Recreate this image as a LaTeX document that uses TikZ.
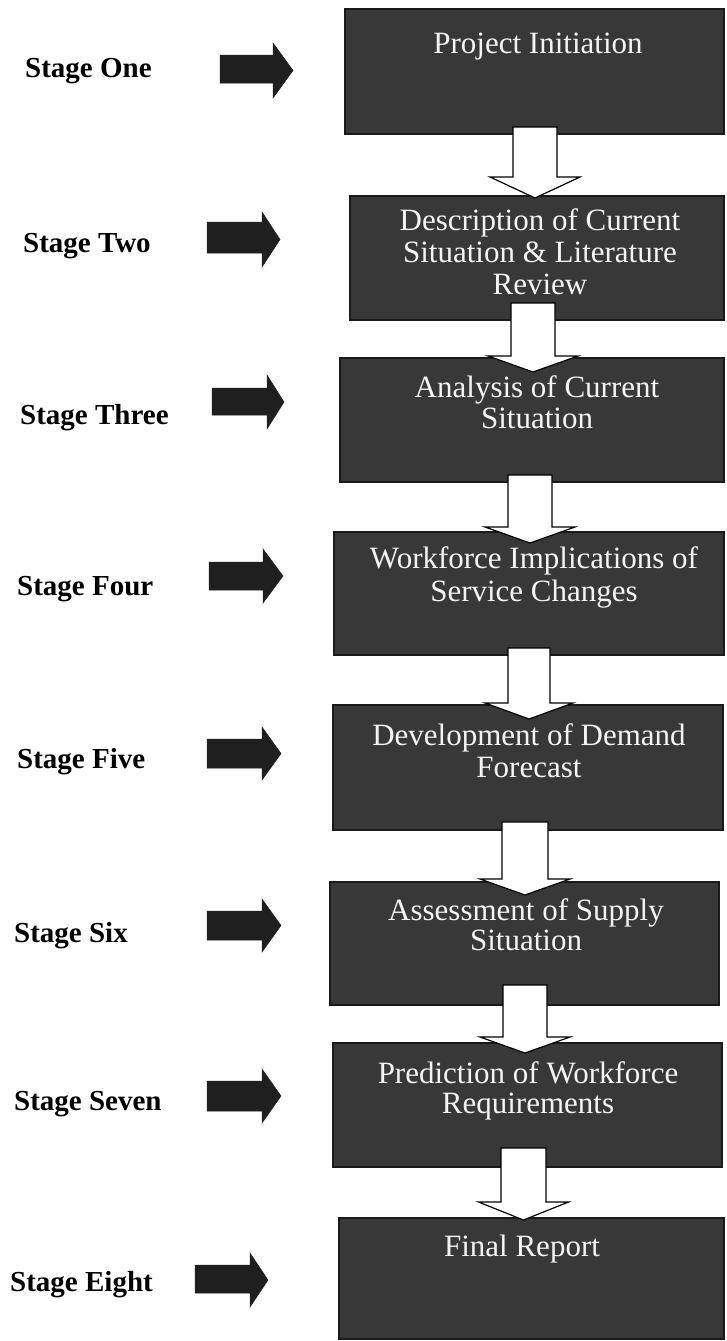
\documentclass[tikz,border=0pt]{standalone}
\usepackage{fontspec}
\setmainfont{Liberation Serif}
\usetikzlibrary{calc}
\definecolor{boxgray}{HTML}{383838}
\definecolor{boxedge}{HTML}{1A1A1A}
\definecolor{boxtext}{HTML}{F4F4F4}
\tikzset{
  stagebox/.style={draw=boxedge, line width=1.5pt, fill=boxgray, inner sep=0pt, outer sep=0pt},
  stagelabel/.style={anchor=base west, inner sep=0pt, font=\bfseries\fontsize{29}{32}\selectfont},
  boxtxt/.style={anchor=base, inner sep=0pt, text=boxtext, font=\fontsize{31}{33}\selectfont},
  flowarrow/.style={draw=black, line width=1.2pt, fill=white, line join=miter},
  sidearrow/.style={fill=black!88, draw=black!88, line width=0.5pt, line join=miter},
}
% box: name, left, top, right, bottom
\newcommand\flowbox[5]{%
  \node[stagebox, anchor=north west, minimum width={(#4-#2)*1pt}, minimum height={(#5-#3)*1pt}] (#1) at (#2,#3) {};}
% down block arrow: name, xc, ytop, yhead, ytip, halfshaft, halfhead
\newcommand\blockdown[7]{%
  \coordinate (#1s) at (#2,#3);
  \coordinate (#1t) at (#2,#5);
  \draw[flowarrow] ($(#1s)+(-#6,0)$) -- (#2-#6,#4) -- (#2-#7,#4) -- (#1t)
     -- (#2+#7,#4) -- (#2+#6,#4) -- ($(#1s)+(#6,0)$) -- cycle;}
% right block arrow: name, x0, xh, xt, bodytop, bodybottom, headtop, headbottom
\newcommand\blockright[8]{%
  \coordinate (#1t) at (#4,{(#7+#8)/2});
  \fill[sidearrow] (#2,#5) -- (#3,#5) -- (#3,#7) -- (#1t) -- (#3,#8) -- (#3,#6) -- (#2,#6) -- cycle;}
\begin{document}
\begin{tikzpicture}[x=1pt, y=-1pt]
\useasboundingbox (0,0) rectangle (726,1341);
\fill[white] (0,0) rectangle (726,1341);

% boxes
\flowbox{b1}{345}{9}{724}{134}
\flowbox{b2}{350}{196}{724}{320}
\flowbox{b3}{340}{358}{724}{482}
\flowbox{b4}{334}{532}{724}{655}
\flowbox{b5}{333}{705}{723}{830}
\flowbox{b6}{330}{882}{719}{1005}
\flowbox{b7}{333}{1043}{722}{1167}
\flowbox{b8}{339}{1218}{724}{1339}

% down arrows between boxes
\blockdown{d1}{535}{127}{177}{198}{22}{45}
\blockdown{d2}{533}{303}{356}{372}{22}{45}
\blockdown{d3}{530}{475}{527}{543}{22}{45}
\blockdown{d4}{529}{648}{703}{719}{21}{44}
\blockdown{d5}{525}{822}{879}{895}{23}{45}
\blockdown{d6}{525}{985}{1037}{1053}{22}{45}
\blockdown{d7}{523.5}{1148}{1202}{1220}{22.5}{45}

% box texts
\node[boxtxt] (t1) at (538,53) {Project Initiation};
\node[boxtxt] (t2a) at (540,230) {Description of Current};
\node[boxtxt] (t2b) at (540,262) {Situation \& Literature};
\node[boxtxt] (t2c) at (540,294) {Review};
\node[boxtxt] (t3a) at (537,397) {Analysis of Current};
\node[boxtxt] (t3b) at (537,428) {Situation};
\node[boxtxt] (t4a) at (534,568) {Workforce Implications of};
\node[boxtxt] (t4b) at (534,601) {Service Changes};
\node[boxtxt] (t5a) at (529,745) {Development of Demand};
\node[boxtxt] (t5b) at (529,777) {Forecast};
\node[boxtxt] (t6a) at (526,920) {Assessment of Supply};
\node[boxtxt] (t6b) at (526,950) {Situation};
\node[boxtxt] (t7a) at (528,1083) {Prediction of Workforce};
\node[boxtxt] (t7b) at (528,1113) {Requirements};
\node[boxtxt] (t8) at (522,1256) {Final Report};

% stage labels
\node[stagelabel] (s1) at (25,77) {Stage One};
\node[stagelabel] (s2) at (23,252) {Stage Two};
\node[stagelabel] (s3) at (20,424) {Stage Three};
\node[stagelabel] (s4) at (17,595) {Stage Four};
\node[stagelabel] (s5) at (17,768) {Stage Five};
\node[stagelabel] (s6) at (14,942) {Stage Six};
\node[stagelabel] (s7) at (14,1110) {Stage Seven};
\node[stagelabel] (s8) at (10,1291) {Stage Eight};

% side arrows
\blockright{r1}{220}{273}{293}{55}{83}{43}{98}
\blockright{r2}{207}{262}{280}{222}{253}{212}{267}
\blockright{r3}{212}{267}{284}{388}{415}{375}{429}
\blockright{r4}{209}{263}{283}{562}{590}{549}{603}
\blockright{r5}{207}{262}{281}{739}{768}{727}{780}
\blockright{r6}{207}{262}{281}{911}{940}{899}{952}
\blockright{r7}{207}{262}{281}{1081}{1111}{1069}{1123}
\blockright{r8}{195}{250}{268}{1265}{1293}{1253}{1307}
\end{tikzpicture}
\end{document}
